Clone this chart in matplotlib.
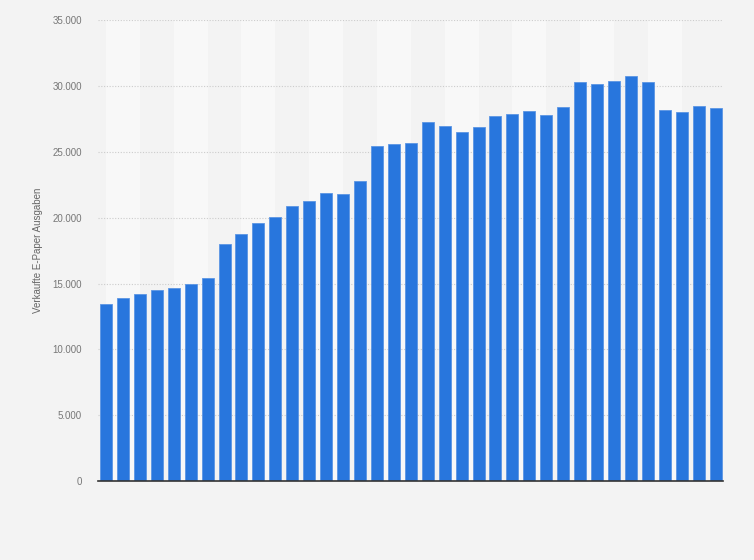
"""
Verkaufte E-Paper Ausgaben als Säulendiagramm.
"""

import numpy as np
import matplotlib.pyplot as plt
from matplotlib.ticker import FuncFormatter

EPAPER_SALES = [
    13440, 13890, 14200, 14500, 14650, 14950, 15410, 17980, 18740, 19580,
    20030, 20890, 21240, 21850, 21770, 22760, 25460, 25620, 25690, 27230,
    26980, 26540, 26920, 27690, 27850, 28080, 27770, 28380, 30300, 30150,
    30380, 30770, 30300, 28150, 28000, 28460, 28310,
]
Y_TICKS = [0, 5000, 10000, 15000, 20000, 25000, 30000, 35000]
Y_LABEL = "Verkaufte E-Paper Ausgaben"

BG_COLOR = "#f3f3f3"
BAND_COLOR = "#f8f8f8"
BAR_COLOR = "#2876dd"

plt.rcParams["font.family"] = ["Liberation Sans", "DejaVu Sans"]


def create_bar_chart() -> None:
    """Draw the e-paper sales bars."""
    positions = np.arange(len(EPAPER_SALES))

    fig = plt.figure(figsize=(7.54, 5.6), dpi=100, facecolor=BG_COLOR)
    ax = fig.add_axes([0.130, 0.141, 0.829, 0.823])
    ax.set_facecolor(BG_COLOR)

    # light column bands, every fourth position covering two bars
    for start in range(0, len(EPAPER_SALES) - 1, 4):
        ax.axvspan(start, start + 2, color=BAND_COLOR, lw=0, zorder=0)

    ax.bar(
        positions,
        EPAPER_SALES,
        width=0.71,
        color=BAR_COLOR,
        edgecolor="#5b95e4",
        linewidth=0.6,
        zorder=3,
    )

    ax.set_xlim(-0.47, len(EPAPER_SALES) - 0.56)
    ax.set_ylim(0, 35000)
    ax.set_yticks(Y_TICKS)
    ax.yaxis.set_major_formatter(
        FuncFormatter(lambda v, _: f"{int(v):,}".replace(",", "."))
    )
    ax.set_xticks([])

    for val in Y_TICKS[1:]:
        ax.axhline(val, color="#cccccc", lw=0.8, ls=(0, (1, 1.5)), zorder=1)

    for side in ("top", "right", "left"):
        ax.spines[side].set_visible(False)
    ax.spines["bottom"].set_color("#333333")
    ax.spines["bottom"].set_linewidth(1.2)
    ax.spines["bottom"].set_zorder(4)

    ax.tick_params(axis="y", length=0, pad=11.5, labelsize=7, labelcolor="#777777")
    ax.set_ylabel(Y_LABEL, fontsize=7, color="#666666", labelpad=7)

    plt.savefig("out.png", dpi=100, facecolor=BG_COLOR)


if __name__ == "__main__":
    create_bar_chart()
